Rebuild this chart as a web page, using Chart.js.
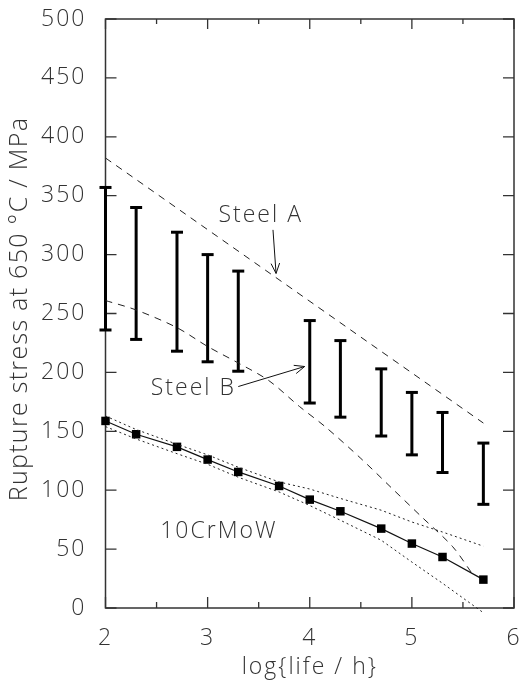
<!DOCTYPE html>
<html>
<head>
<meta charset="utf-8">
<script src="https://cdn.jsdelivr.net/npm/chart.js@4.4.1/dist/chart.umd.min.js"></script>
<style>
  html, body { margin: 0; padding: 0; background: #fff; }
  #wrap { width: 523px; height: 687px; }
</style>
</head>
<body>
<div id="wrap"><canvas id="chart"></canvas></div>
<script>
// 10CrMoW measured points
const lifeLog = [2.0, 2.3, 2.7, 3.0, 3.3, 3.7, 4.0, 4.3, 4.7, 5.0, 5.3, 5.7];
const crmowStress = [158.8, 147.5, 136.8, 126, 115.5, 103.6, 92, 82.1, 67.4, 54.7, 43.3, 24.1];

// 10CrMoW band (dotted)
const bandUpper = [163, 151.5, 139, 130, 119.5, 107, 101, 93, 83, 73, 64.5, 52.5];
const bandLower = [154, 143.5, 131, 122, 111, 98.5, 87, 74.5, 57.5, 39, 21, -4];

// scatter ranges (error bars)
const rangeLog = [2.0, 2.3, 2.7, 3.0, 3.3, 4.0, 4.3, 4.7, 5.0, 5.3, 5.7];
const rangeLow = [236, 228, 218, 209, 201, 174, 162, 146, 130, 115, 88];
const rangeHigh = [357, 340, 319, 300, 286, 244, 227, 203, 183, 166, 140];

// Steel A / Steel B dashed curves
const steelALog = [2.0, 5.7];
const steelAStress = [382, 157];
const steelBLog = [2.0, 2.3, 2.7, 3.0, 3.3, 3.6, 3.9, 4.15, 4.5, 4.8, 5.1, 5.4, 5.6];
const steelBStress = [261, 253, 238, 222, 208, 193, 171, 154, 127, 102, 77, 52, 28];

// arrows [start, end]
const arrowA = [[3.64, 321], [3.67, 284]];
const arrowB = [[3.30, 188], [3.95, 205]];

// ticks
const xTicks = [2, 3, 4, 5, 6];
const xMinorTicks = [2.5, 3.5, 4.5, 5.5];
const yTicks = [0, 50, 100, 150, 200, 250, 300, 350, 400, 450, 500];

const FONT = "'Open Sans', 'DejaVu Sans', sans-serif";
const WEIGHT = 300;
const INK = '#333';

function pts(xs, ys) {
    return xs.map((x, i) => ({ x: x, y: ys[i] }));
}

// stems as one line with gaps
const stems = [];
rangeLog.forEach((x, i) => {
    stems.push({ x: x, y: rangeLow[i] });
    stems.push({ x: x, y: rangeHigh[i] });
    stems.push({ x: x, y: null });
});
const caps = pts(rangeLog, rangeLow).concat(pts(rangeLog, rangeHigh));

// frame, inward ticks, labels and arrowheads
const decorPlugin = {
    id: 'decor',
    beforeDraw(chart) {
        // wider text, closer to the original plotting font
        chart.ctx.letterSpacing = '2px';
    },
    beforeDatasetsDraw(chart) {
        const { ctx, chartArea: a, scales: { x, y } } = chart;
        ctx.save();
        ctx.strokeStyle = '#333';
        ctx.lineWidth = 1.5;
        ctx.strokeRect(a.left, a.top, a.right - a.left, a.bottom - a.top);
        ctx.lineWidth = 1.3;
        ctx.beginPath();
        yTicks.forEach(v => {
            const py = y.getPixelForValue(v);
            ctx.moveTo(a.left, py); ctx.lineTo(a.left + 11, py);
            ctx.moveTo(a.right, py); ctx.lineTo(a.right - 11, py);
        });
        xTicks.forEach(v => {
            const px = x.getPixelForValue(v);
            ctx.moveTo(px, a.bottom); ctx.lineTo(px, a.bottom - 11);
            ctx.moveTo(px, a.top); ctx.lineTo(px, a.top + 10);
        });
        xMinorTicks.forEach(v => {
            const px = x.getPixelForValue(v);
            ctx.moveTo(px, a.bottom); ctx.lineTo(px, a.bottom - 6);
            ctx.moveTo(px, a.top); ctx.lineTo(px, a.top + 5);
        });
        ctx.stroke();
        ctx.restore();
    },
    afterDatasetsDraw(chart) {
        const { ctx, chartArea: a, scales: { x, y } } = chart;
        ctx.save();
        // arrowheads
        ctx.strokeStyle = '#111';
        ctx.lineWidth = 1;
        [arrowA, arrowB].forEach(ar => {
            const x0 = x.getPixelForValue(ar[0][0]), y0 = y.getPixelForValue(ar[0][1]);
            const x1 = x.getPixelForValue(ar[1][0]), y1 = y.getPixelForValue(ar[1][1]);
            const ang = Math.atan2(y1 - y0, x1 - x0);
            ctx.beginPath();
            [-0.4, 0.4].forEach(d => {
                ctx.moveTo(x1, y1);
                ctx.lineTo(x1 - 11 * Math.cos(ang + d), y1 - 11 * Math.sin(ang + d));
            });
            ctx.stroke();
        });
        // labels
        ctx.fillStyle = INK;
        ctx.letterSpacing = '2px';
        ctx.font = WEIGHT + ' 23px ' + FONT;
        ctx.textAlign = 'center';
        ctx.textBaseline = 'middle';
        ctx.fillText('Steel A', x.getPixelForValue(3.52), y.getPixelForValue(333));
        ctx.fillText('Steel B', x.getPixelForValue(2.86), y.getPixelForValue(186));
        ctx.fillText('10CrMoW', x.getPixelForValue(3.11), y.getPixelForValue(65));
        // axis titles
        ctx.fillText('log{life / h}', (a.left + a.right) / 2, 667);
        ctx.save();
        ctx.translate(20, 309);
        ctx.rotate(-Math.PI / 2);
        ctx.letterSpacing = '1.3px';
        ctx.font = WEIGHT + ' 25px ' + FONT;
        ctx.fillText('Rupture stress at 650 °C / MPa', 0, 0);
        ctx.restore();
        ctx.restore();
    }
};

const ctx = document.getElementById('chart').getContext('2d');
new Chart(ctx, {
    type: 'scatter',
    data: {
        datasets: [
            {
                label: 'Steel A',
                type: 'line',
                data: pts(steelALog, steelAStress),
                borderColor: '#222',
                borderWidth: 1,
                borderDash: [7, 6],
                pointRadius: 0,
                fill: false
            },
            {
                label: 'Steel B',
                type: 'line',
                data: pts(steelBLog, steelBStress),
                borderColor: '#222',
                borderWidth: 1,
                borderDash: [7, 6],
                pointRadius: 0,
                tension: 0.3,
                fill: false
            },
            {
                label: 'Band upper',
                type: 'line',
                data: pts(lifeLog, bandUpper),
                borderColor: '#222',
                borderWidth: 1,
                borderDash: [2, 3],
                pointRadius: 0,
                fill: false
            },
            {
                label: 'Band lower',
                type: 'line',
                data: pts(lifeLog, bandLower),
                borderColor: '#222',
                borderWidth: 1,
                borderDash: [2, 3],
                pointRadius: 0,
                clip: false,
                fill: false
            },
            {
                label: '10CrMoW',
                type: 'line',
                data: pts(lifeLog, crmowStress),
                borderColor: '#111',
                backgroundColor: '#000',
                borderWidth: 1.2,
                pointStyle: 'rect',
                pointRadius: 6,
                pointBorderWidth: 0,
                clip: false,
                fill: false
            },
            {
                label: 'Range',
                type: 'line',
                data: stems,
                borderColor: '#000',
                borderWidth: 3,
                pointRadius: 0,
                spanGaps: false,
                clip: false,
                fill: false
            },
            {
                label: 'Caps',
                data: caps,
                pointStyle: 'line',
                pointRadius: 6,
                borderColor: '#000',
                borderWidth: 3,
                clip: false
            },
            {
                label: 'Arrow A',
                type: 'line',
                data: pts(arrowA.map(p => p[0]), arrowA.map(p => p[1])),
                borderColor: '#111',
                borderWidth: 1,
                pointRadius: 0
            },
            {
                label: 'Arrow B',
                type: 'line',
                data: pts(arrowB.map(p => p[0]), arrowB.map(p => p[1])),
                borderColor: '#111',
                borderWidth: 1,
                pointRadius: 0
            }
        ]
    },
    options: {
        responsive: true,
        maintainAspectRatio: false,
        animation: false,
        events: [],
        layout: { padding: { top: 19, right: 8, left: 0, bottom: 0 } },
        plugins: {
            legend: { display: false },
            tooltip: { enabled: false }
        },
        scales: {
            x: {
                type: 'linear',
                min: 2,
                max: 6,
                afterBuildTicks: s => { s.ticks = xTicks.map(v => ({ value: v })); },
                afterFit: s => {
                    s.height = 79;
                    s.paddingLeft = 0;
                    s.paddingRight = 0;
                },
                grid: { display: false },
                border: { display: false },
                ticks: {
                    padding: 9,
                    color: INK,
                    font: { family: FONT, size: 23, weight: WEIGHT },
                    maxRotation: 0
                }
            },
            y: {
                type: 'linear',
                min: 0,
                max: 500,
                afterBuildTicks: s => { s.ticks = yTicks.map(v => ({ value: v })); },
                afterFit: s => {
                    s.width = 105.5;
                    s.paddingTop = 0;
                    s.paddingBottom = 0;
                },
                grid: { display: false },
                border: { display: false },
                ticks: {
                    padding: 11,
                    color: INK,
                    font: { family: FONT, size: 23, weight: WEIGHT }
                }
            }
        }
    },
    plugins: [decorPlugin]
});
</script>
</body>
</html>
